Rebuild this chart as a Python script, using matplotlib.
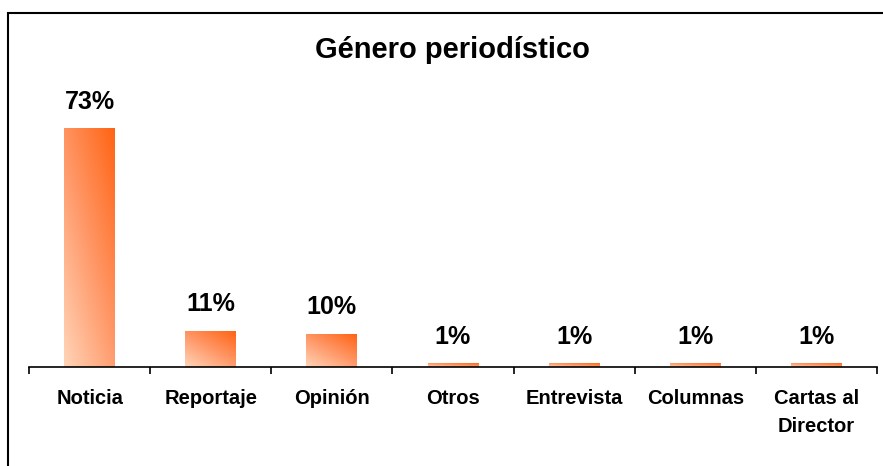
import numpy as np
import matplotlib.pyplot as plt
from matplotlib.colors import LinearSegmentedColormap
from matplotlib.patches import Rectangle

categories = ['Noticia', 'Reportaje', 'Opinión', 'Otros', 'Entrevista', 'Columnas', 'Cartas al\nDirector']
values = [73, 11, 10, 1, 1, 1, 1]
labels = ['73%', '11%', '10%', '1%', '1%', '1%', '1%']

plt.rcParams['font.family'] = ['Liberation Sans', 'DejaVu Sans']

fig = plt.figure(figsize=(8.83, 4.66), dpi=100)
ax = fig.add_axes([29 / 883, 99 / 466, 848 / 883, 261 / 466])

cmap = LinearSegmentedColormap.from_list('peach', ['#ffd4b8', '#ff9868', '#ff6414'])
yy, xx = np.mgrid[0:1:200j, 0:1:50j]
grad = 0.55 * (1 - yy) + 0.45 * xx

x = np.arange(len(categories))
w = 0.42
bars = ax.bar(x, values, width=w, color='none', edgecolor='none')
for b, v, lab in zip(bars, values, labels):
    x0 = b.get_x()
    ax.imshow(grad, cmap=cmap, vmin=0, vmax=1, aspect='auto', origin='upper',
              extent=(x0, x0 + w, 0, v), zorder=2, interpolation='bilinear')
    ax.text(b.get_x() + w / 2, v + 8.3, lab, ha='center', va='center',
            fontsize=18, fontweight='bold')

ax.set_xlim(-0.5, len(categories) - 0.5)
ax.set_ylim(0, 80)
for s in ['top', 'right', 'left']:
    ax.spines[s].set_visible(False)
ax.spines['bottom'].set_linewidth(1.2)
ax.set_yticks([])
ax.set_xticks(np.arange(len(categories) + 1) - 0.5)
ax.set_xticklabels([])
ax.tick_params(axis='x', length=5, width=1.2, direction='out')
for i, c in enumerate(categories):
    ax.text(i, -6.8, c, ha='center', va='top', fontsize=14.5, fontweight='bold',
            linespacing=1.6)

fig.text(452 / 883, 1 - 50 / 466, 'Género periodístico', ha='center', va='center',
         fontsize=21, fontweight='bold')

fig.patches.append(Rectangle((8 / 883, -0.1), 1.2, 1 - 13 / 466 + 0.1,
                             transform=fig.transFigure, fill=False,
                             edgecolor='black', linewidth=1.5))

fig.savefig('out.png', dpi=100)
